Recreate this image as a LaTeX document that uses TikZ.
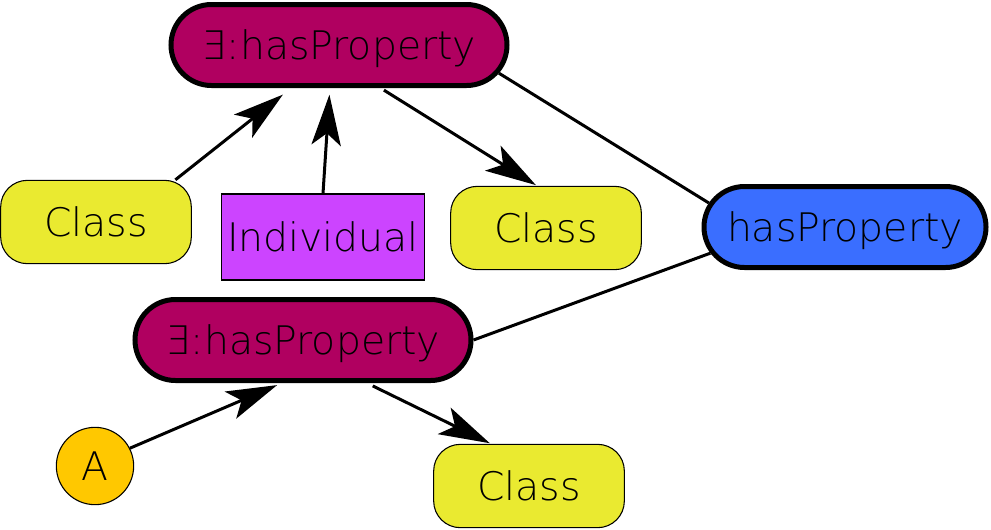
\documentclass[tikz,border=0pt]{standalone}
\usepackage{fontspec}
\setmainfont{DejaVu Sans ExtraLight}
\usepackage{xcolor}
\usepackage{tikz}
\usetikzlibrary{arrows.meta,shapes.misc}

\definecolor{restrmagenta}{RGB}{176,0,96}
\definecolor{propblue}{RGB}{58,110,255}
\definecolor{clsyellow}{RGB}{234,234,48}
\definecolor{indpurple}{RGB}{204,68,255}
\definecolor{anonorange}{RGB}{255,200,0}

\begin{document}
\begin{tikzpicture}[
   x=0.75pt, y=-0.75pt,
   every node/.style={font=\fontsize{29.5}{35}\selectfont, text height=21pt, text depth=0pt, inner sep=0pt},
   restr/.style={rounded rectangle, draw, line width=3.75pt, fill=restrmagenta,
      minimum width=252pt, minimum height=60.75pt},
   prop/.style={rounded rectangle, draw, line width=3.75pt, fill=propblue,
      minimum width=211.5pt, minimum height=60.75pt},
   cls/.style={rectangle, rounded corners=20pt, draw, line width=0.8pt, fill=clsyellow,
      minimum width=143pt, minimum height=62.5pt},
   indiv/.style={rectangle, draw, line width=0.8pt, fill=indpurple,
      minimum width=152pt, minimum height=64.5pt},
   anon/.style={circle, draw, line width=0.8pt, fill=anonorange, minimum size=58pt},
   link/.style={line width=2.25pt},
   arr/.style={link, -{Stealth[length=38pt, width=22pt, inset=9pt]}},
   ]
   \useasboundingbox (0,0) rectangle (991,529);

   % restrictions and the property
   \node[restr] (topEx) at (339,45) {∃:hasProperty};
   \node[restr] (botEx) at (303,340) {∃:hasProperty};
   \node[prop] (hasProp) at (845,227) {hasProperty};

   % fillers
   \node[cls] (clsL) at (96,222) {Class};
   \node[cls] (clsM) at (546,228) {Class};
   \node[cls] (clsB) at (529,486) {Class};
   \node[indiv] (ind) at (323,237) {Individual};
   \node[anon] (anonA) at (95,466) {A};

   % connectors
   \draw[arr, shorten >=8pt] (clsL.28) -- (topEx.-138);
   \draw[arr, shorten >=5pt] (ind.north) -- (topEx.-102.5);
   \draw[arr, shorten <=3pt, shorten >=1pt] (topEx.-46) -- (clsM.102);
   \draw[link] (topEx.-10) -- (hasProp.170);
   \draw[link] (botEx.east) -- (hasProp.191);
   \draw[arr, shorten >=4pt] (anonA.27) -- (botEx.-116);
   \draw[arr, shorten <=5pt, shorten >=1pt] (botEx.-34.5) -- (clsB.132);
\end{tikzpicture}
\end{document}
